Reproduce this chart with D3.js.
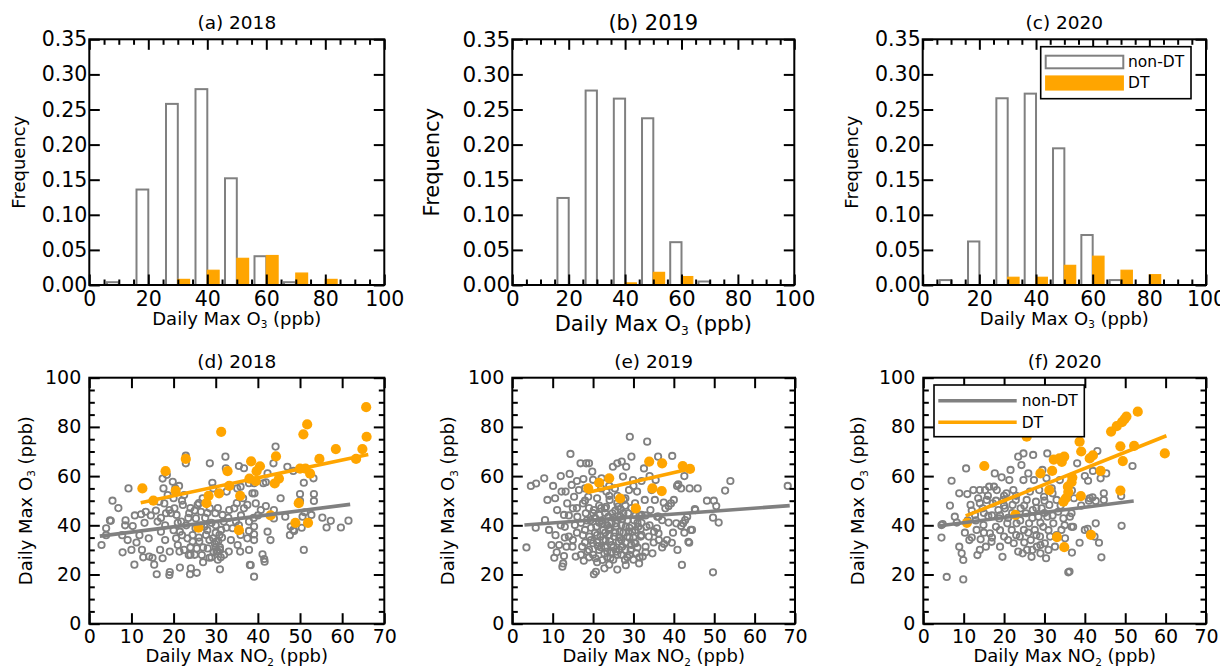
<!DOCTYPE html>
<html>
<head>
<meta charset="utf-8">
<script src="https://cdn.jsdelivr.net/npm/d3@7"></script>
<style>
  body { margin: 0; background: #fff; }
  svg { display: block; }
</style>
</head>
<body>
<svg id="fig" width="1220" height="666"></svg>
<script>
// ---------- data ----------
// histogram bins: left edges of 10-ppb bins
const histBinStarts = [5, 15, 25, 35, 45, 55, 65, 75, 85];
const freq2018NonDT = [0.004, 0.136, 0.258, 0.279, 0.152, 0.041, 0.004, 0, 0];
const freq2018DT    = [0, 0, 0.008, 0.021, 0.038, 0.042, 0.017, 0.008, 0];
const freq2019NonDT = [0, 0.124, 0.277, 0.2655, 0.2375, 0.061, 0.005, 0, 0];
const freq2019DT    = [0, 0, 0, 0.003, 0.018, 0.012, 0, 0, 0];
const freq2020NonDT = [0.007, 0.062, 0.266, 0.2726, 0.1947, 0.0712, 0.007, 0, 0];
const freq2020DT    = [0, 0, 0.011, 0.011, 0.028, 0.041, 0.021, 0.0147, 0];

const histXTicks = [0, 20, 40, 60, 80, 100];
const histXMinorTicks = [5, 10, 15, 25, 30, 35, 45, 50, 55, 65, 70, 75, 85, 90, 95];
const histYTicks = [0, 0.05, 0.10, 0.15, 0.20, 0.25, 0.30, 0.35];

const scatXTicks = [0, 10, 20, 30, 40, 50, 60, 70];
const scatYTicks = [0, 20, 40, 60, 80, 100];
const scatYMinorTicks = [5, 10, 15, 25, 30, 35, 45, 50, 55, 65, 70, 75, 85, 90, 95];

// daily max NO2 vs daily max O3, [NO2, O3]
const nonDT2018 = [
  [2.9,32],[4.0,36],[4.0,38.8],[4.9,42],[5.5,50],[6.9,47],[7.8,36],[7.9,29],[8.6,42],[9.3,55],
  [10.0,30],[10.7,24],[10.8,44],[11.2,33],[12.8,27],[10.3,39.7],[11.9,36],[12.3,44.5],[13.1,41],[13.4,45.5],
  [14.1,34.7],[14.2,27.3],[14.6,44],[15.0,26.8],[15.4,24],[15.8,46],[12.5,30],[9.1,34],[5.1,41.8],[8.5,40],
  [16.0,20.1],[16.2,41.5],[16.6,49.6],[16.8,30],[17.0,37.4],[17.4,59],[17.4,26.6],[17.6,55],[17.8,48.9],[18.0,34],
  [18.2,44.9],[18.4,60.5],[18.6,52.3],[19.0,19.8],[19.1,21],[19.0,46.2],[19.1,29.3],[19.4,44.9],[19.8,57.7],[20.2,46.9],
  [20.4,55],[20.6,34.7],[20.7,44.2],[21.0,32],[21.3,56],[21.4,29.3],[21.5,22.8],[21.5,37.4],[21.8,41.5],[22.2,48.3],
  [22.5,52.3],[22.9,65.2],[22.9,68.3],[23.3,34.7],[23.6,27.9],[23.7,44.9],[23.9,20.1],[24.1,22.5],[24.5,33.4],[25.2,38.8],
  [25.3,42.8],[25.5,30.6],[25.5,20.7],[25.7,48.3],[26.1,33.4],[26.5,45.5],[26.7,27.9],[26.9,51],[27.3,39.4],[27.7,36.1],
  [28.1,30.6],[28.5,26.8],[28.6,46.9],[28.6,65.2],[29.2,57.3],[29.4,55],[29.4,34.7],[29.9,44.9],[30.1,33.4],[30.5,29.3],
  [30.9,36.1],[31.0,22.1],[31.3,38.1],[31.6,44.2],[31.9,41.5],[32.3,67.9],[32.4,63.2],[32.6,53.7],[33.1,29.3],[33.2,46.2],
  [33.6,34],[34.0,38.8],[34.4,46.9],[34.8,41.5],[35.2,32],
  [20,38],[21,41],[22,36],[22.5,30],[23,40],[23.5,43],[24,31],[24.5,36],[25,28],[25,46],
  [26,35],[26.5,40],[27,31],[27.5,43],[28,38],[28.5,34],[29,41],[29.5,29],[30,37],[30.5,47],
  [31,31],[31.5,35],[32,28],[32.5,39],[33,43],[30,40],[28,45],[26,49],[24,47],[22,50],
  [20,51],[18,40],[17,43],[24,28],[27,25],[29,27],[30.5,26],[31,30],[30,31],[29.8,32.5],
  [30.6,33.5],[31.2,27],[30.2,29.5],
  [35.5,64.1],[36.7,63.2],[35.9,55.7],[35.1,55],[35,49],[36.7,46.9],[37.5,48.3],[37.9,57.1],[38.7,53],[39.2,53],
  [39.1,57.1],[39.5,48.9],[40.7,46.2],[41.3,57.1],[41.9,57.5],[42.3,61.1],[41.9,47.8],[43.7,65.2],[44.2,72],[43.8,46.2],
  [43.8,42.8],[45.4,51],[46.5,43.5],[47.0,63.8],[48.4,62.1],[47.6,36],[48.4,38.1],[47.8,39.5],[48.6,37.7],[50.0,52.7],
  [50.0,49.9],[50.4,39],[50.6,43.5],[50.9,30],[50.9,57.3],[51.1,45.3],[52.7,44.2],[53.2,59.1],[53.3,52.7],[53.3,49.9],
  [55.3,43.1],[56.3,39.1],[57.3,41.8],[59.7,39.1],[61.5,41.9],[42.3,37.4],[43.0,34],[39.1,39.5],[39.1,36.3],[37.9,37.7],
  [37.5,34.7],[39.1,34],[35.9,36.1],[37.9,30],[35.8,29.3],[41.1,28.2],[41.5,26.3],[41.6,25.2],[38.1,23.9],[39.1,19.1],
  [37.9,41.5],[36,44],[35.5,40],[38.3,23.8],[39,43],[40,44],[36.5,51]
];
const dt2018 = [
  [12.6,55],[15.2,50],[18.1,62],[20.5,54],[22.9,67],[25.9,39],[27.8,49],[28.3,52],[30.8,53],[31.3,78],
  [32.8,62],[33.2,56],[35.8,52],[35.5,38],[38.4,66],[38.0,59],[39.7,62],[40.5,64],[39.5,58],[43.0,44],
  [44.0,57],[44.3,68],[45.0,59],[48.9,41],[49.7,49],[50.0,63],[50.8,77],[51.7,81],[51.3,63],[52.4,61],
  [51.9,41],[54.6,67],[58.5,71],[63.3,67],[64.8,71],[65.7,88],[65.8,76]
];

const nonDT2019 = [
  [3.5,31.0],[4.6,56.0],[5.9,57.0],[7.9,59.1],[5.8,39.0],[8.1,42.1],[8.7,50.3],[9.1,38.1],[9.7,32.0],[10.1,56.0],
  [10.4,26.8],[10.6,51.0],[10.7,36.0],[11.1,46.2],[11.6,32.0],[12.0,60.0],[12.2,53.7],[12.4,23.2],[12.6,24.5],[12.8,44.2],
  [12.8,27.5],[13.0,39.4],[13.2,53.7],[13.4,31.3],[13.6,48.9],[14.0,35.4],[14.2,60.9],[14.4,69.0],[14.7,56.4],[14.9,31.3],
  [15.0,46.9],[15.3,51.6],[15.5,40.1],[15.7,27.3],[16.1,43.5],[16.5,54.3],[16.9,65.2],[17.3,31.3],[17.5,48.9],[17.6,58.8],
  [17.7,25.6],[18.0,38.1],[18.2,44.9],[18.3,65.2],[18.6,29.3],[18.8,51.6],[19.0,65.2],[19.1,35.4],[19.4,42.1],[19.8,61.8],
  [20.0,32.7],[20.2,46.2],[20.2,20.1],[20.7,21.1],[20.6,26.6],[20.8,39.4],[21.0,51.0],[21.5,30.0],[21.6,44.2],[21.9,35.4],
  [22.1,59.1],[22.3,25.9],[22.4,40.8],[22.8,22.5],[22.9,46.9],[23.1,34.0],[23.3,53.7],[23.5,29.3],[23.8,43.5],[23.9,38.1],
  [24.1,50.3],[24.3,26.6],[24.6,32.0],[24.8,44.9],[24.9,63.8],[25.2,35.4],[25.4,55.0],[25.6,40.8],[25.7,29.3],[26.0,65.2],
  [26.2,47.6],[26.4,33.3],[26.6,37.4],[26.8,43.5],[27.1,65.9],[27.2,31.3],[27.4,59.8],[27.6,50.3],[27.9,25.9],[28.1,39.4],
  [28.1,23.8],[28.2,63.8],[28.5,35.4],[28.7,44.9],[28.9,54.3],[29.1,76.0],[29.3,30.0],[29.5,67.9],[29.7,37.4],[29.9,58.4],
  [30.1,42.1],[30.4,48.9],[30.5,32.7],[30.7,28.6],[30.9,53.7],[31.2,39.4],[31.4,24.5],[31.8,35.4],[32.0,44.2],[32.3,27.3],
  [32.6,63.1],[32.8,50.3],[33.0,31.3],[33.2,39.4],[33.4,74.0],[33.8,35.4],[34.2,46.2],[34.5,54.3],[34.7,28.6],[35.1,37.4],
  [35.3,50.3],[35.5,58.4],[35.9,43.5],[36.1,67.9],[36.3,34.0],
  [39.6,68.2],[42.6,60.0],[40.8,56.0],[41.8,55.0],[43.9,55.0],[45.9,55.0],[54.0,58.0],[52.7,54.1],[68.2,56.0],[48.2,50.0],
  [49.9,50.0],[50.5,47.8],[49.7,43.1],[51.1,41.1],[45.3,46.2],[40.0,50.3],[39.3,48.9],[38.7,47.8],[37.5,49.2],[37.9,46.9],
  [43.3,43.5],[42.8,42.1],[42.3,40.8],[41.8,39.7],[40.6,40.8],[38.7,41.1],[37.1,42.1],[36.2,43.5],[44.5,38.1],[42.6,37.0],
  [39.8,37.0],[36.2,36.7],[38.3,34.0],[39.5,32.9],[37.6,32.4],[37.1,31.0],[40.9,30.0],[43.8,32.9],[42.0,23.9],[49.7,20.9],
  [35.8,38.8],[44.2,38.1],[43.6,33.3],[45.2,46.6],[41.1,56.6],
  [16,37],[17,41],[18,33],[19,47],[19.5,39],[20,28],[20.5,43],[21,36],[21.5,48],[22,31],
  [22.5,38],[23,45],[23.5,27],[24,36],[24.5,41],[25,31],[25.5,46],[26,28],[26.5,35],[27,40],
  [27.5,45],[28,30],[28.5,42],[29,35],[29.5,47],[30,26],[30.5,38],[31,31],[31.5,44],[32,36],
  [20,45],[22,42],[24,39],[26,42],[28,33],[30,35],[21,33],[23,37],[25,26],[27,28],
  [29,28],[19,30],[17,28],[16,47],[18,50],[26,52],[24,56],[22,55],[20,58.5],[28,48],
  [32,41],[34,40],[33,29],[35,33],
  [17.5,36],[18.5,42],[19.5,34],[20.5,37],[21.5,41],[22.5,34],[23.5,40],[24.5,29],[25.5,37],[26.5,30],
  [27.5,37],[28.5,27],[29.5,32],[30.5,44],[31.5,27],[19,27],[21,25],[23,31],[25,43],[27,34],
  [29,39],[31,41],[33,44],[22,47],[24,52],[26,49],[28,51],[30,56],[32,58],[34,60],
  [18,55],[16,58],[15,34],[14,44],[12,40],[11,29],[13,35],[26,22],[24,24],
  [21.2,31.5],[22.8,28.5],[24.2,33.5],[25.8,39.5],[27.2,42.5],[28.8,37.5],[30.2,33],[31.8,38.5],[23.2,47.5],[26.8,46.5]
];
const dt2019 = [
  [18.8,55.0],[21.5,57.3],[24.0,59.1],[26.7,50.9],[30.6,46.9],[33.9,65.9],[34.7,55.0],[37.1,65.2],[37.0,53.9],[42.2,64.1],
  [44.0,62.9]
];

const nonDT2020 = [
  [4.5,40.1],[4.8,40.5],[4.5,35.0],[5.8,19.0],[9.9,18.0],[7.0,58.1],[6.6,48.0],[7.8,43.5],[8.3,41.1],[8.9,53.0],
  [8.9,31.3],[9.5,28.6],[9.9,25.9],[10.3,37.0],[10.6,63.1],[10.9,52.7],[11.4,34.0],[11.7,48.3],[12.4,54.3],[12.8,44.2],
  [13.2,38.1],[13.4,27.9],[13.6,51.0],[14.0,54.3],[14.2,34.3],[14.7,46.9],[14.9,40.1],[15.3,54.3],[15.5,31.3],[15.7,50.3],
  [16.1,43.8],[16.3,55.7],[16.5,36.7],[16.9,33.3],[17.2,48.9],[17.5,55.7],[17.7,61.1],[18.0,39.4],[18.2,54.3],[18.6,46.2],
  [18.8,42.8],[19.0,31.3],[19.4,59.5],[19.6,27.2],[19.8,50.3],[20.0,35.4],[20.2,46.9],[20.6,53.0],[20.8,40.8],[21.3,58.4],
  [21.6,62.5],[21.9,38.1],[22.1,48.3],[22.3,54.3],[22.4,32.7],[22.9,50.3],[23.1,40.8],[23.5,67.9],[23.5,29.3],[23.9,35.4],
  [24.1,46.9],[24.3,64.5],[24.6,28.6],[24.8,69.2],[24.8,58.4],[24.9,38.1],[25.4,44.9],[25.6,50.3],[25.7,30.0],[26.0,61.1],
  [26.2,40.8],[26.4,53.7],[26.6,34.0],[26.8,27.2],[27.1,46.2],[27.2,68.6],[27.4,58.4],[27.6,38.1],[27.9,49.6],[28.1,31.3],
  [28.5,43.5],[28.7,54.3],[28.9,35.4],[29.0,28.6],[29.3,46.9],[29.5,62.5],[29.7,39.4],[29.9,51.6],[30.1,32.7],[30.4,26.6],
  [30.5,59.1],[30.7,43.5],[30.7,69.2],[31.2,48.3],[31.4,35.4],[31.8,55.0],[32.2,40.8],[32.6,31.3],[33.0,50.3],[33.4,45.5],
  [33.8,58.4],[34.2,38.1],[34.7,42.8],[35.1,34.7],[35.9,20.9],[36.3,43.5],[36.7,39.4],
  [43.1,70.2],[38.1,65.2],[42.0,62.1],[40.0,60.0],[40.8,58.1],[43.9,59.1],[45.3,61.1],[51.8,64.1],[36.8,54.1],[37.3,51.0],
  [41.2,51.0],[41.9,51.4],[41.0,50.0],[44.7,53.0],[44.7,50.3],[49.0,51.9],[39.1,48.0],[36.7,44.9],[37.1,39.4],[40.0,38.1],
  [40.7,38.6],[42.7,40.8],[49.1,39.8],[42.4,35.4],[43.5,32.9],[38.7,32.9],[36.8,28.9],[44.1,27.0],[36.2,21.2],[42.7,49.9],
  [12,46],[13,42],[14,49],[15,37],[15,45],[16,52],[17,35],[17,44],[18,50],[19,38],
  [19,44],[20,52],[21,43],[21,34],[22,45],[23,36],[23,52],[24,42],[25,33],[25,48],
  [26,37],[27,43],[27,30],[28,47],[28,36],[29,41],[29,32],[30,45],[31,38],[31,30],
  [32,44],[33,36],[34,48],[35,40],[20,48],[12,35],[11,42],[14,30],[30,50],[32,53]
];
const dt2020 = [
  [10.8,41.0],[15.1,64.1],[22.8,44.2],[25.6,76.0],[29.0,61.1],[31.2,54.3],[31.9,62.1],[32.3,66.7],[33.1,35.2],[33.7,67.2],
  [34.3,65.8],[34.9,67.9],[34.7,49.6],[34.9,31.1],[35.3,51.0],[35.9,53.5],[36.7,57.5],[36.9,59.4],[35.8,55.7],[38.7,74.0],
  [39.1,70.0],[39.0,51.9],[41.2,67.2],[42.0,68.4],[41.5,36.1],[43.9,62.1],[46.5,78.1],[47.9,80.3],[49.2,81.9],[49.8,83.1],
  [50.3,84.2],[53.1,86.2],[48.8,72.1],[49.4,66.1],[48.8,54.1],[52.2,72.3],[59.8,69.2]
];

// least-squares fit lines, end points [NO2, O3]
const fit2018NonDT = [[2.5,35.6],[61.9,48.5]];
const fit2018DT    = [[12.2,49.2],[66.2,68.8]];
const fit2019NonDT = [[3.0,40.1],[68.7,48.0]];
const fit2019DT    = [[18.6,53.3],[44.4,63.1]];
const fit2020NonDT = [[4.1,39.8],[52.1,49.9]];
const fit2020DT    = [[10.5,43.8],[60.2,76.4]];

const seriesNames = ["non-DT", "DT"];

// ---------- drawing ----------
const FONT = "'DejaVu Sans', sans-serif";
const GRAY = "#808080", ORANGE = "#ffa500";
const svg = d3.select("#fig");

function styleAxis(sel, fontSize) {
  sel.select(".domain").remove();
  sel.selectAll(".tick line").attr("stroke", "#000").attr("stroke-width", 2);
  sel.selectAll(".tick text").attr("fill", "#000")
    .style("font-family", FONT).style("font-size", fontSize + "px");
}

// label with a small subscript, e.g. "Daily Max O" + "3" + " (ppb)"
function subLabel(textSel, parts, size) {
  const sub = size * 0.58, shift = size * 0.22;
  textSel.append("tspan").text(parts[0]);
  textSel.append("tspan").attr("dy", shift).style("font-size", sub + "px").text(parts[1]);
  textSel.append("tspan").attr("dy", -shift).text(parts[2]);
}

function drawFrame(g, xs, ys, o) {
  const [xl, xr] = xs.range(), [yb, yt] = ys.range();
  const MAJ = -10.5, MIN = -5.5;
  g.append("g").attr("transform", `translate(0,${yb})`)
    .call(d3.axisBottom(xs).tickValues(o.xTicks).tickFormat(o.xFmt).tickSize(MAJ).tickPadding(o.xPad))
    .call(s => styleAxis(s, o.tickFont));
  g.append("g").attr("transform", `translate(0,${yt})`)
    .call(d3.axisTop(xs).tickValues(o.xTicks).tickFormat("").tickSize(MAJ))
    .call(s => styleAxis(s, o.tickFont));
  if (o.xMinor) {
    g.append("g").attr("transform", `translate(0,${yb})`)
      .call(d3.axisBottom(xs).tickValues(o.xMinor).tickFormat("").tickSize(MIN))
      .call(s => styleAxis(s, o.tickFont));
    g.append("g").attr("transform", `translate(0,${yt})`)
      .call(d3.axisTop(xs).tickValues(o.xMinor).tickFormat("").tickSize(MIN))
      .call(s => styleAxis(s, o.tickFont));
  }
  g.append("g").attr("transform", `translate(${xl},0)`)
    .call(d3.axisLeft(ys).tickValues(o.yTicks).tickFormat(o.yFmt).tickSize(MAJ).tickPadding(o.yPad))
    .call(s => styleAxis(s, o.tickFont));
  g.append("g").attr("transform", `translate(${xr},0)`)
    .call(d3.axisRight(ys).tickValues(o.yTicks).tickFormat("").tickSize(MAJ))
    .call(s => styleAxis(s, o.tickFont));
  if (o.yMinor) {
    g.append("g").attr("transform", `translate(${xl},0)`)
      .call(d3.axisLeft(ys).tickValues(o.yMinor).tickFormat("").tickSize(MIN))
      .call(s => styleAxis(s, o.tickFont));
    g.append("g").attr("transform", `translate(${xr},0)`)
      .call(d3.axisRight(ys).tickValues(o.yMinor).tickFormat("").tickSize(MIN))
      .call(s => styleAxis(s, o.tickFont));
  }
  g.append("rect").attr("x", xl).attr("y", yt).attr("width", xr - xl).attr("height", yb - yt)
    .attr("fill", "none").attr("stroke", "#000").attr("stroke-width", 2);

  // title, axis labels
  g.append("text").attr("x", (xl + xr) / 2).attr("y", o.titleY)
    .attr("text-anchor", "middle").style("font-family", FONT).style("font-size", o.titleFont + "px")
    .text(o.title);
  const xl_ = g.append("text").attr("x", (xl + xr) / 2).attr("y", o.xLabelY)
    .attr("text-anchor", "middle").style("font-family", FONT).style("font-size", o.labelFont + "px");
  subLabel(xl_, o.xLabel, o.labelFont);
  const yl_ = g.append("text").attr("transform", `translate(${o.yLabelX},${(yb + yt) / 2}) rotate(-90)`)
    .attr("text-anchor", "middle").style("font-family", FONT).style("font-size", o.labelFont + "px");
  if (Array.isArray(o.yLabel)) subLabel(yl_, o.yLabel, o.labelFont); else yl_.text(o.yLabel);
}

const histPanels = [
  { title: "(a) 2018", box: [89.3, 39.3, 384.3, 285], nonDT: freq2018NonDT, dt: freq2018DT,
    tickFont: 20.5, labelFont: 18, titleFont: 18.5, titleY: 29, xLabelY: 324.5, yLabelX: 25, legend: false },
  { title: "(b) 2019", box: [512.3, 39.3, 794.3, 285], nonDT: freq2019NonDT, dt: freq2019DT,
    tickFont: 21.5, labelFont: 21, titleFont: 21, titleY: 30, xLabelY: 330.5, yLabelX: 438.5, legend: false },
  { title: "(c) 2020", box: [922.7, 39.3, 1206, 285], nonDT: freq2020NonDT, dt: freq2020DT,
    tickFont: 20.5, labelFont: 18, titleFont: 18.5, titleY: 29, xLabelY: 324.5, yLabelX: 858, legend: true }
];

histPanels.forEach(p => {
  const [x0, y0, x1, y1] = p.box;
  const xs = d3.scaleLinear().domain([0, 100]).range([x0, x1]);
  const ys = d3.scaleLinear().domain([0, 0.35]).range([y1, y0]);
  const g = svg.append("g");
  const binW = 10, barW = binW * 0.8 / 2, off = binW * 0.1;
  const bars = g.append("g");
  [[p.nonDT, 0], [p.dt, 1]].forEach(([vals, k]) => {
    bars.selectAll(null).data(histBinStarts.map((b, i) => ({ b, v: vals[i] })).filter(d => d.v > 0))
      .join("rect")
      .attr("x", d => xs(d.b + off + k * barW))
      .attr("width", d => xs(d.b + off + (k + 1) * barW) - xs(d.b + off + k * barW))
      .attr("y", d => ys(d.v))
      .attr("height", d => ys(0) - ys(d.v))
      .attr("fill", k === 0 ? "#fff" : ORANGE)
      .attr("stroke", k === 0 ? GRAY : ORANGE)
      .attr("stroke-width", k === 0 ? 2 : 1.2);
  });
  drawFrame(g, xs, ys, {
    xTicks: histXTicks, xMinor: histXMinorTicks, xFmt: d3.format("d"), xPad: 6,
    yTicks: histYTicks, yFmt: d3.format(".2f"), yPad: 2,
    tickFont: p.tickFont, labelFont: p.labelFont, titleFont: p.titleFont,
    title: p.title, titleY: p.titleY, xLabel: ["Daily Max O", "3", " (ppb)"], xLabelY: p.xLabelY,
    yLabel: "Frequency", yLabelX: p.yLabelX
  });
  if (p.legend) {
    const L = g.append("g");
    L.append("rect").attr("x", 1040.7).attr("y", 46.7).attr("width", 150.3).attr("height", 52)
      .attr("fill", "#fff").attr("stroke", "#000").attr("stroke-width", 1.6);
    seriesNames.forEach((name, i) => {
      const yy = i === 0 ? 55.7 : 76;
      L.append("rect").attr("x", 1045.7).attr("y", yy).attr("width", 77.6).attr("height", i === 0 ? 12.6 : 14)
        .attr("fill", i === 0 ? "#fff" : ORANGE).attr("stroke", i === 0 ? GRAY : ORANGE)
        .attr("stroke-width", i === 0 ? 2 : 1.2);
      L.append("text").attr("x", 1128).attr("y", yy + (i === 0 ? 6.3 : 7)).attr("dy", "0.35em")
        .style("font-family", FONT).style("font-size", "15.5px").text(name);
    });
  }
});

const scatPanels = [
  { title: "(d) 2018", box: [89.3, 377.7, 384.3, 623.7], gray: nonDT2018, orange: dt2018,
    fitG: fit2018NonDT, fitO: fit2018DT, yLabelX: 31.5, legend: false },
  { title: "(e) 2019", box: [512.3, 377.7, 795, 623.7], gray: nonDT2019, orange: dt2019,
    fitG: fit2019NonDT, fitO: fit2019DT, yLabelX: 454, legend: false },
  { title: "(f) 2020", box: [923.3, 377.7, 1206, 623.7], gray: nonDT2020, orange: dt2020,
    fitG: fit2020NonDT, fitO: fit2020DT, yLabelX: 864, legend: true }
];

scatPanels.forEach(p => {
  const [x0, y0, x1, y1] = p.box;
  const xs = d3.scaleLinear().domain([0, 70]).range([x0, x1]);
  const ys = d3.scaleLinear().domain([0, 100]).range([y1, y0]);
  const g = svg.append("g");
  g.append("g").selectAll("circle").data(p.gray).join("circle")
    .attr("cx", d => xs(d[0])).attr("cy", d => ys(d[1])).attr("r", 3.2)
    .attr("fill", "none").attr("stroke", GRAY).attr("stroke-width", 1.8);
  g.append("g").selectAll("circle").data(p.orange).join("circle")
    .attr("cx", d => xs(d[0])).attr("cy", d => ys(d[1])).attr("r", 5.1)
    .attr("fill", ORANGE);
  const line = d3.line().x(d => xs(d[0])).y(d => ys(d[1]));
  g.append("path").attr("d", line(p.fitG)).attr("stroke", GRAY).attr("stroke-width", 3.6).attr("fill", "none");
  g.append("path").attr("d", line(p.fitO)).attr("stroke", ORANGE).attr("stroke-width", 3.6).attr("fill", "none");
  drawFrame(g, xs, ys, {
    xTicks: scatXTicks, xMinor: null, xFmt: d3.format("d"), xPad: 6,
    yTicks: scatYTicks, yMinor: scatYMinorTicks, yFmt: d3.format("d"), yPad: 8,
    tickFont: 19, labelFont: 18, titleFont: 18.5,
    title: p.title, titleY: 367.5, xLabel: ["Daily Max NO", "2", " (ppb)"], xLabelY: 662,
    yLabel: ["Daily Max O", "3", " (ppb)"], yLabelX: p.yLabelX
  });
  if (p.legend) {
    const L = g.append("g");
    L.append("rect").attr("x", 934).attr("y", 385).attr("width", 150.3).attr("height", 51.7)
      .attr("fill", "#fff").attr("stroke", "#000").attr("stroke-width", 1.6);
    seriesNames.forEach((name, i) => {
      const yy = i === 0 ? 400.7 : 422.3;
      L.append("line").attr("x1", 938.3).attr("x2", 1016.7).attr("y1", yy).attr("y2", yy)
        .attr("stroke", i === 0 ? GRAY : ORANGE).attr("stroke-width", 3.5);
      L.append("text").attr("x", 1021.7).attr("y", yy).attr("dy", "0.35em")
        .style("font-family", FONT).style("font-size", "15.5px").text(name);
    });
  }
});
</script>
</body>
</html>
